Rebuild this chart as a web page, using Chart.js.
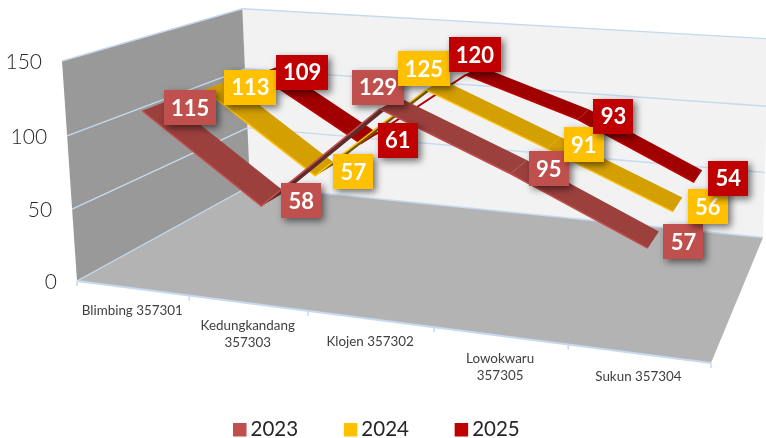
<!DOCTYPE html>
<html><head><meta charset="utf-8">
<style>html,body{margin:0;padding:0;background:#fff}canvas{display:block}</style>
<script src="https://cdn.jsdelivr.net/npm/chart.js@4"></script>
</head><body><canvas id="c" width="766" height="438"></canvas>
<script>
const categories = ['Blimbing 357301', ['Kedungkandang','357303'], 'Klojen 357302', ['Lowokwaru','357305'], 'Sukun 357304'];
const seriesNames = ['2023','2024','2025'];
const values2023 = [115,58,129,95,57];
const values2024 = [113,57,125,91,56];
const values2025 = [109,61,120,93,54];
const yTicks = [0,50,100,150];

const colors = ['#c0504d','#ffc000','#c00000'];
const topFaces = ['#9c403e','#d49f00','#a00000'];
const underFaces = ['#5e2c2a','#6e5600','#6a0808'];
const depthCentres = [1/6,1/2,5/6];
const ribbonHalf = 0.07;
const gridBlue = '#c6d9ee';
const FONT = 'Lato, "Open Sans", sans-serif';
// label placement relative to the ribbon centre, per category; the peak sits up and to the left
const labelDx = [34,28,null,30,30];
const peakDx = [-12,-11,2];

// camera: corner positions of the box and their projective weights
const cam = {O:[77,281],U:[711,363],V:[62,61],W:[250,186],a:0.86,b:0.97,c:1.25};
function project(u,v,w){
  const r=1-u-v-w, d=cam.a*u+cam.b*v+cam.c*w+r;
  const f=k=>(cam.a*u*cam.U[k]+cam.b*v*cam.V[k]+cam.c*w*cam.W[k]+r*cam.O[k])/d;
  return [f(0),f(1)];
}
function norm(chart,i,val){
  const x=chart.scales.x,y=chart.scales.y;
  return [(x.getPixelForValue(i)-x.left)/x.width,(y.bottom-y.getPixelForValue(val))/(y.bottom-y.top)];
}
function poly(ctx,pts,fill){
  ctx.beginPath();pts.forEach((p,i)=>i?ctx.lineTo(p[0],p[1]):ctx.moveTo(p[0],p[1]));ctx.closePath();
  ctx.fillStyle=fill;ctx.fill();
}
function seg(ctx,a,b,color,w){
  ctx.beginPath();ctx.moveTo(a[0],a[1]);ctx.lineTo(b[0],b[1]);ctx.strokeStyle=color;ctx.lineWidth=w;ctx.stroke();
}
const box3d={
  id:'box3d',
  afterDatasetsUpdate(chart){
    chart.data.datasets.forEach((ds,s)=>{
      chart.getDatasetMeta(s).data.forEach((pt,i)=>{
        const [u,v]=norm(chart,i,ds.data[i]);
        const p=project(u,v,depthCentres[s]-ribbonHalf);
        pt.x=p[0];pt.y=p[1];
      });
    });
  },
  beforeDatasetsDraw(chart){
    const c=chart.ctx;c.save();
    poly(c,[project(0,0,1),project(1,0,1),project(1,1,1),project(0,1,1)],'#f2f2f2');
    poly(c,[project(0,0,0),project(0,1,0),project(0,1,1),project(0,0,1)],'#999999');
    poly(c,[project(0,0,0),project(1,0,0),project(1,0,1),project(0,0,1)],'#b3b3b3');
    const ys=chart.scales.y;
    ys.ticks.forEach(t=>{
      const [,v]=norm(chart,0,t.value);
      seg(c,project(0,v,0),project(0,v,1),gridBlue,1.4);
      seg(c,project(0,v,1),project(1,v,1),gridBlue,1.4);
    });
    seg(c,project(0,0,0),project(1,0,0),gridBlue,2);
    // axis ticks + category labels
    const n=categories.length;
    c.textAlign='center';c.textBaseline='middle';c.font='13.4px '+FONT;
    for(let i=0;i<=n;i++){
      const p=project(i/n,0,0);
      seg(c,p,[p[0],p[1]+5],gridBlue,1.5);
    }
    chart.data.labels.forEach((lab,i)=>{
      const [u]=norm(chart,i,0),p=project(u,0,0);
      [].concat(lab).forEach((line,k)=>{c.fillStyle='#404040';c.fillText(line,p[0],p[1]+23+k*16.5);});
    });
    // value-axis labels
    c.textAlign='right';c.font='300 21px '+FONT;c.fillStyle='#262626';
    ys.ticks.forEach(t=>{
      const [,v]=norm(chart,0,t.value),p=project(0,v,0);
      c.fillText(String(t.value),p[0]-20,p[1]+1);
    });
    c.restore();
  },
  beforeDatasetDraw(chart,args){
    const s=args.index,ds=chart.data.datasets[s],c=chart.ctx,wc=depthCentres[s];
    c.save();
    for(let i=0;i<ds.data.length-1;i++){
      const [u0,v0]=norm(chart,i,ds.data[i]),[u1,v1]=norm(chart,i+1,ds.data[i+1]);
      const A=project(u0,v0,wc-ribbonHalf),B=project(u1,v1,wc-ribbonHalf),
            C=project(u1,v1,wc+ribbonHalf),D=project(u0,v0,wc+ribbonHalf);
      const area=(B[0]-A[0])*(D[1]-A[1])-(B[1]-A[1])*(D[0]-A[0]);
      poly(c,[A,B,C,D],area<0?topFaces[s]:underFaces[s]);
    }
    c.restore();
  },
  afterDatasetsDraw(chart){
    const c=chart.ctx;
    chart.data.datasets.forEach((ds,s)=>{
      ds.data.forEach((val,i)=>{
        const [u,v]=norm(chart,i,val),p=project(u,v,depthCentres[s]);
        const peak=labelDx[i]===null;
        const txt=String(val),w=val>=100?52:40,h=35,
              cx=p[0]+(peak?peakDx[s]:labelDx[i]),cy=p[1]+(peak?-16:2);
        c.save();
        c.shadowColor='rgba(0,0,0,0.55)';c.shadowBlur=7;c.shadowOffsetX=3;c.shadowOffsetY=3;
        c.fillStyle=colors[s];c.fillRect(Math.round(cx-w/2),Math.round(cy-h/2),w,h);
        c.restore();
        c.save();
        c.fillStyle='#fff';c.font='bold 22px '+FONT;c.textAlign='center';c.textBaseline='middle';
        c.fillText(txt,cx,cy+1);
        c.restore();
      });
    });
  }
};
new Chart(document.getElementById('c'),{
  type:'line',
  data:{labels:categories,datasets:[values2023,values2024,values2025].map((d,s)=>({
    label:seriesNames[s],data:d,borderColor:colors[s],backgroundColor:colors[s],
    borderWidth:1.5,pointRadius:0,tension:0,fill:false,clip:false
  }))},
  plugins:[box3d],
  options:{
    responsive:false,animation:false,events:[],
    layout:{padding:{right:7,bottom:-12}},
    scales:{
      x:{type:'category',offset:true,display:false},
      y:{type:'linear',min:0,max:150,display:false,ticks:{stepSize:50}}
    },
    plugins:{
      title:{display:false},tooltip:{enabled:false},
      legend:{display:true,position:'bottom',labels:{
        usePointStyle:true,pointStyle:'rect',boxWidth:1,boxHeight:12,padding:52,
        color:'#262626',font:{family:FONT,size:20.5}
      }}
    }
  }
});
</script></body></html>
